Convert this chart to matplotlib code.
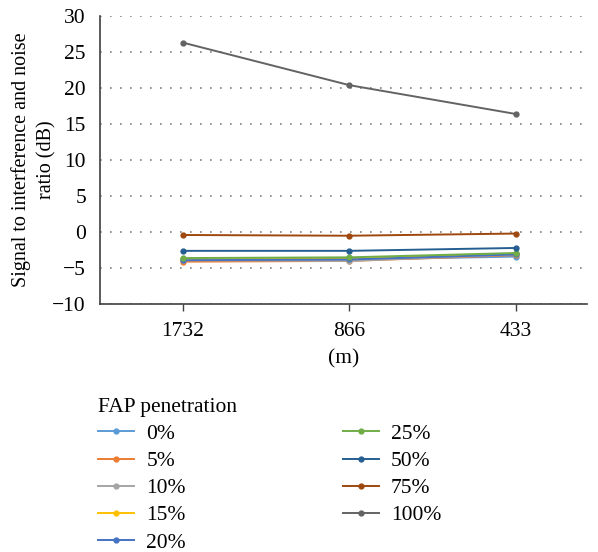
import matplotlib as mpl
import matplotlib.pyplot as plt

mpl.rcParams.update(
    {
        "font.family": "serif",
        "font.serif": ["Liberation Serif", "DejaVu Serif"],
        "font.size": 15.5,
        "axes.linewidth": 1.2,
    }
)

# --- data ---
distances = ["1732", "866", "433"]
series_labels = ["0%", "5%", "10%", "15%", "20%", "25%", "50%", "75%", "100%"]
sinr_0 = [-3.8, -3.8, -3.4]
sinr_5 = [-4.1, -4.0, -3.2]
sinr_10 = [-3.9, -4.0, -3.1]
sinr_15 = [-3.8, -3.7, -3.0]
sinr_20 = [-3.9, -3.8, -3.1]
sinr_25 = [-3.6, -3.5, -2.9]
sinr_50 = [-2.6, -2.6, -2.2]
sinr_75 = [-0.4, -0.5, -0.2]
sinr_100 = [26.3, 20.4, 16.4]

colors = ["#5B9BD5", "#ED7D31", "#A5A5A5", "#FFC000", "#4472C4",
          "#70AD47", "#255E91", "#9E480E", "#636363"]

all_series = [sinr_0, sinr_5, sinr_10, sinr_15, sinr_20, sinr_25,
              sinr_50, sinr_75, sinr_100]

fig = plt.figure(figsize=(5.98, 5.52), dpi=100)
ax = fig.add_axes([0.167, 0.449, 0.815, 0.522])

xs = list(range(len(distances)))
for vals, lab, col in zip(all_series, series_labels, colors):
    ax.plot(xs, vals, color=col, lw=1.4, marker="o", markersize=3.5,
            label=lab, zorder=3)

ax.set_xlim(-0.5, 2.43)
ax.set_ylim(-10, 30)
ax.set_yticks(range(-10, 31, 5))
ax.set_xticks(xs)
ax.set_xticklabels(distances)
ax.yaxis.grid(True, linestyle=(0, (1, 5)), color="#808080", lw=1.2)
ax.set_axisbelow(True)

for side in ("top", "right"):
    ax.spines[side].set_visible(False)
for side in ("left", "bottom"):
    ax.spines[side].set_color("#404040")

ax.tick_params(axis="y", length=0, pad=10)
ax.tick_params(axis="x", length=5, width=1, color="#404040", direction="out", pad=8)

ax.set_xlabel("(m)", labelpad=6)
ax.set_ylabel("Signal to interference and noise\nratio (dB)", fontsize=14.5,
              linespacing=1.45, labelpad=-3)

leg = fig.legend(
    loc="upper left",
    bbox_to_anchor=(0.15, 0.295),
    ncol=2,
    frameon=False,
    title="FAP penetration",
    alignment="left",
    handlelength=1.67,
    handletextpad=0.56,
    columnspacing=7.3,
    labelspacing=0.33,
    borderaxespad=0,
)

fig.savefig("out.png", dpi=100, facecolor="white")
